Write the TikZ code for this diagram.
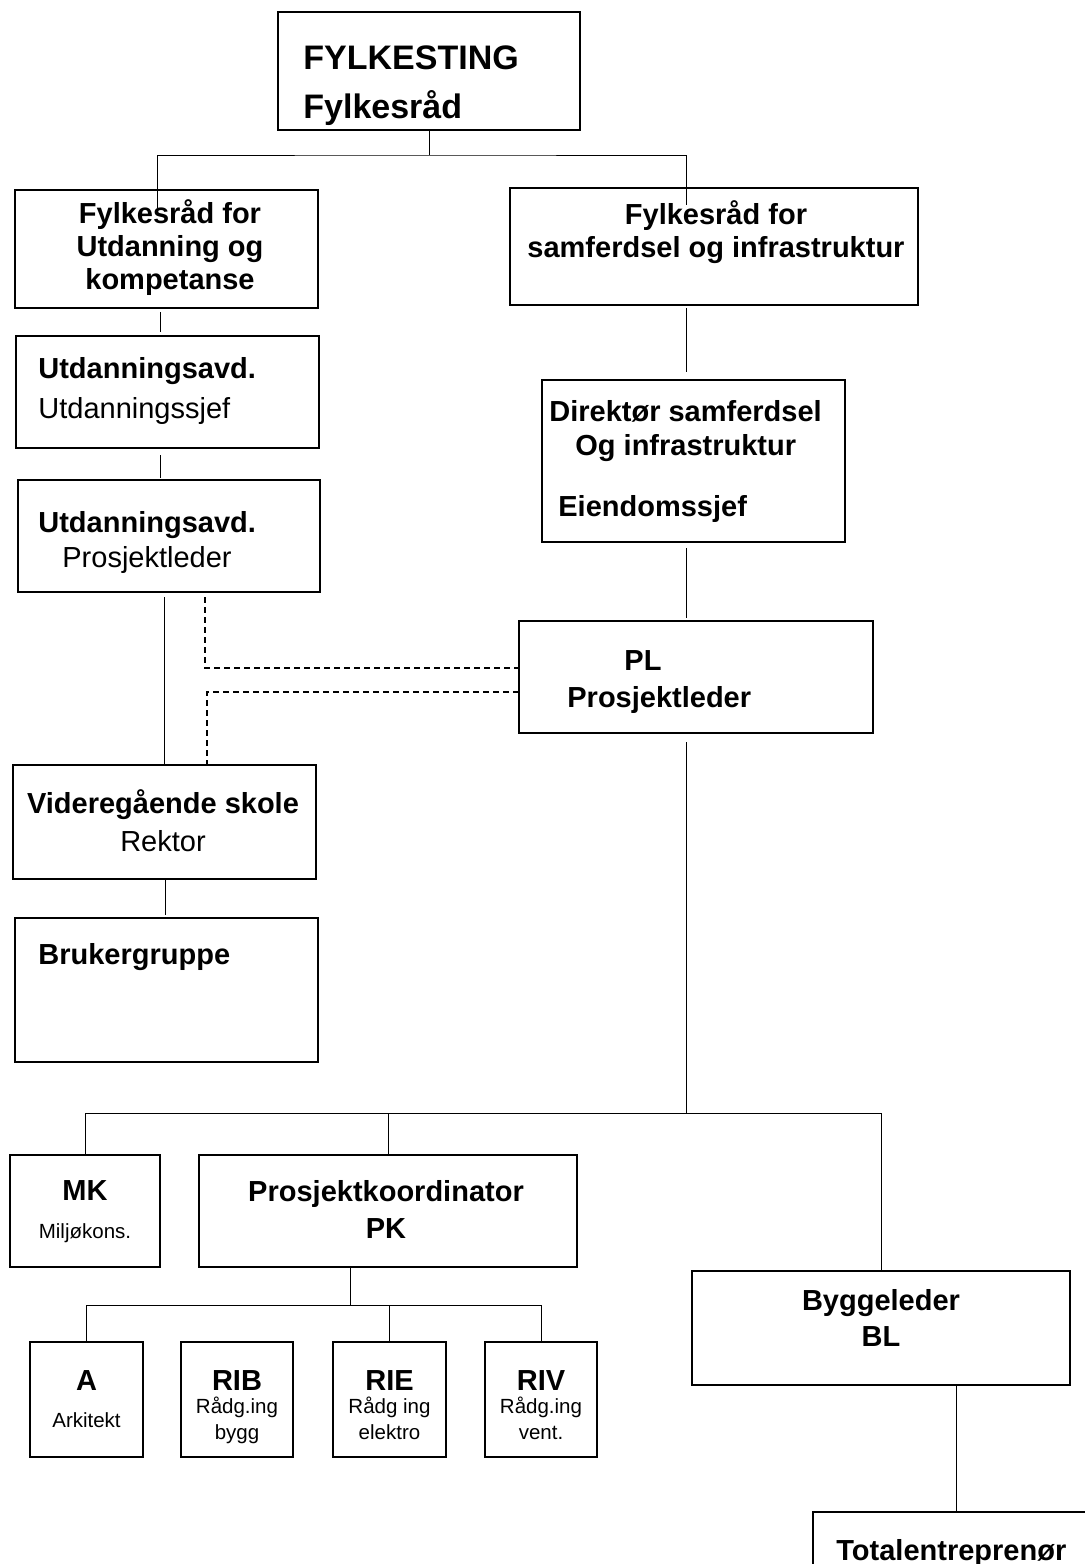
\documentclass[tikz,border=0pt]{standalone}
\usepackage{fontspec}
\setmainfont{Liberation Sans}
\usetikzlibrary{calc,positioning}

% bold head line inside the small boxes
\newcommand{\boxhead}[1]{{\fontsize{14.5}{16.5}\selectfont\bfseries #1}}

\begin{document}
\begin{tikzpicture}
    [x=0.5pt, y=-0.5pt,
    % STYLES
    % The box style is used to draw the units
    box/.style={rectangle, draw, line width=0.6pt, inner sep=0pt, outer sep=0pt},
    % The title styles are used for the texts in the boxes
    title/.style={inner sep=0pt, font=\fontsize{14.5}{16.5}\selectfont},
    bigtitle/.style={inner sep=0pt, font=\fontsize{17}{24.5}\selectfont\bfseries},
    smalltitle/.style={inner sep=0pt, font=\fontsize{10.25}{11.5}\selectfont},
    % The link styles are used for the lines between the boxes
    link/.style={line width=0.5pt},
    dashlink/.style={line width=0.6pt, dash pattern=on 3pt off 2pt}]

    \useasboundingbox (0,0) rectangle (1084,1564);

    % Draw boxes
    \node [box, minimum width=151pt, minimum height=59pt] (fylke) at (429,71) {};
    \node [box, minimum width=151.5pt, minimum height=59pt] (fu) at (166.5,249) {};
    \node [box, minimum width=204pt, minimum height=58.5pt] (fs) at (714,246.5) {};
    \node [box, minimum width=151.5pt, minimum height=56pt] (ua1) at (167.5,392) {};
    \node [box, minimum width=151pt, minimum height=56pt] (ua2) at (169,536) {};
    \node [box, minimum width=151.5pt, minimum height=81pt] (dir) at (693.5,461) {};
    \node [box, minimum width=177pt, minimum height=56pt] (pl) at (696,677) {};
    \node [box, minimum width=151.5pt, minimum height=57pt] (vgs) at (164.5,822) {};
    \node [box, minimum width=151.5pt, minimum height=72pt] (bg) at (166.5,990) {};
    \node [box, minimum width=75pt, minimum height=56pt] (mk) at (85,1211) {};
    \node [box, minimum width=189pt, minimum height=56pt] (pk) at (388,1211) {};
    \node [box, minimum width=189pt, minimum height=57pt] (bl) at (881,1328) {};
    \node [box, minimum width=56.5pt, minimum height=57.5pt] (a) at (86.5,1399.5) {};
    \node [box, minimum width=56pt, minimum height=57.5pt] (rib) at (237,1399.5) {};
    \node [box, minimum width=56.5pt, minimum height=57.5pt] (rie) at (389.5,1399.5) {};
    \node [box, minimum width=56pt, minimum height=57.5pt] (riv) at (541,1399.5) {};
    \node [box, minimum width=143.5pt, minimum height=44pt] (te) at (956.5,1556) {};

    % Draw texts
    \node [bigtitle, anchor=base west] (fylketxt) at (303,69)
    {\begin{tabular}[t]{@{}l@{}}FYLKESTING\\Fylkesråd\end{tabular}};
    \node [title, anchor=base] (futxt) at (170,223)
    {\bfseries\begin{tabular}[t]{@{}c@{}}Fylkesråd for\\Utdanning og\\kompetanse\end{tabular}};
    \node [title, anchor=base] (fstxt) at (716,224)
    {\bfseries\begin{tabular}[t]{@{}c@{}}Fylkesråd for\\samferdsel og infrastruktur\end{tabular}};
    \node [title, anchor=base west] (ua1txt) at (38,378)
    {\begin{tabular}[t]{@{}l@{}}\textbf{Utdanningsavd.}\\[3.5pt]Utdanningssjef\end{tabular}};
    \node [title, anchor=base west] (ua2txt) at (38,532)
    {\begin{tabular}[t]{@{}l@{}}\textbf{Utdanningsavd.}\\[1pt]\hspace{12pt}Prosjektleder\end{tabular}};
    \node [title, anchor=base west] (dirtxt) at (549,421)
    {\bfseries\begin{tabular}[t]{@{}l@{}}Direktør samferdsel\\[0.5pt]\hspace{13pt}Og infrastruktur\\[14pt]\hspace{4.5pt}Eiendomssjef\end{tabular}};
    \node [title, anchor=base west] (pltxt) at (567,670)
    {\bfseries\begin{tabular}[t]{@{}l@{}}\hspace{28.5pt}PL\\[2pt]Prosjektleder\end{tabular}};
    \node [title, anchor=base] (vgstxt) at (163,813)
    {\begin{tabular}[t]{@{}c@{}}\textbf{Videregående skole}\\[2.5pt]Rektor\end{tabular}};
    \node [title, anchor=base west] (bgtxt) at (38,964) {\bfseries Brukergruppe};
    \node [smalltitle, anchor=base] (mktxt) at (85,1200)
    {\begin{tabular}[t]{@{}c@{}}\boxhead{MK}\\[7.5pt]Miljøkons.\end{tabular}};
    \node [title, anchor=base] (pktxt) at (386,1201)
    {\bfseries\begin{tabular}[t]{@{}c@{}}Prosjektkoordinator\\[2pt]PK\end{tabular}};
    \node [title, anchor=base] (bltxt) at (881,1310)
    {\bfseries\begin{tabular}[t]{@{}c@{}}Byggeleder\\[1.5pt]BL\end{tabular}};
    \node [smalltitle, anchor=base] (atxt) at (86.5,1390)
    {\begin{tabular}[t]{@{}c@{}}\boxhead{A}\\[7pt]Arkitekt\end{tabular}};
    \node [smalltitle, anchor=base] (ribtxt) at (237,1390)
    {\begin{tabular}[t]{@{}c@{}}\boxhead{RIB}\\Rådg.ing\\[1.5pt]bygg\end{tabular}};
    \node [smalltitle, anchor=base] (rietxt) at (389.5,1390)
    {\begin{tabular}[t]{@{}c@{}}\boxhead{RIE}\\Rådg ing\\[1.5pt]elektro\end{tabular}};
    \node [smalltitle, anchor=base] (rivtxt) at (541,1390)
    {\begin{tabular}[t]{@{}c@{}}\boxhead{RIV}\\Rådg.ing\\[1.5pt]vent.\end{tabular}};
    \node [title, anchor=base west] (tetxt) at (836,1560) {\bfseries Totalentreprenør};

    % Draw links
    \draw[link] (fylke.south) -- ++(0,25) coordinate (topbus);
    \draw[link] ($(fu.north)+(-9.5,18)$) |- (topbus) -| ($(fs.north)+(-28,17)$);
    \draw[link] ($(fu.south)+(-6,4)$) -- ($(ua1.north)+(-7,-4)$);
    \draw[link] ($(ua1.south)+(-7.5,7)$) -- ($(ua2.north)+(-9,-2)$);
    \draw[link] ($(ua2.south -| vgs.north)+(0,5)$) -- (vgs.north);
    \draw[link] ($(vgs.south)+(0.5,1)$) -- ($(bg.north)+(-1.5,-3)$);
    \draw[dashlink] ($(ua2.south)+(36,5)$) |- ($(pl.west)+(0,-9)$);
    \draw[dashlink] ($(pl.west)+(0,15)$) -| ($(vgs.north)+(42.5,0)$);
    \draw[link] ($(fs.south)+(-28,3)$) -- ($(dir.north)+(-7.5,-8)$);
    \draw[link] ($(dir.south)+(-7.5,6)$) -- ($(pl.north)+(-10,-3)$);
    \draw[link] ($(pl.south)+(-10,9)$) -- ++(0,371) coordinate (lowbus);
    \draw[link] (mk.north) |- (lowbus) -| (bl.north);
    \draw[link] (pk.north) -- (pk.north |- lowbus);
    \draw[link] ($(pk.south)+(-38,0)$) -- ++(0,38) coordinate (pkbus);
    \draw[link] (a.north) |- (pkbus) -| (riv.north);
    \draw[link] (rie.north) -- (rie.north |- pkbus);
    \draw[link] (bl.south -| te.north) -- (te.north);
\end{tikzpicture}
\end{document}
